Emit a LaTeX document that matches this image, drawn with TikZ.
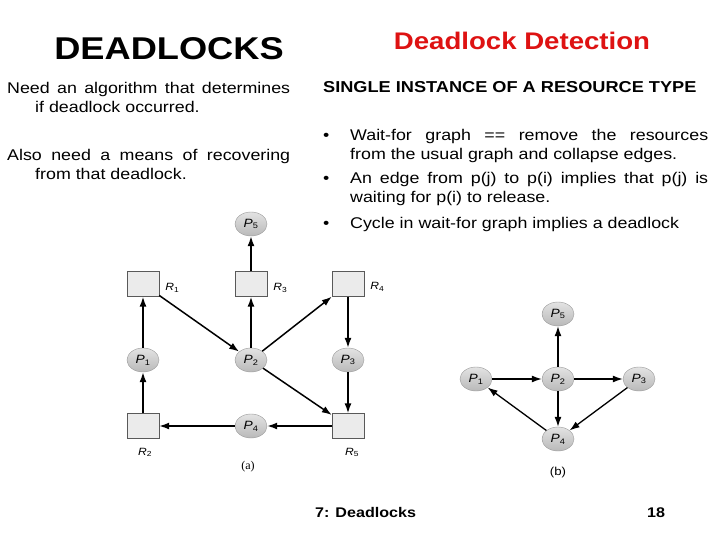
\documentclass[tikz,border=0pt]{standalone}
\usepackage{fontspec}
\setmainfont{Liberation Sans}[FakeStretch=1.15]
\newfontfamily\capfont{Liberation Serif}
\usepackage{xcolor}
\usetikzlibrary{arrows.meta, positioning, shapes.geometric}
\definecolor{titlered}{RGB}{222,18,18}
\newcommand{\Pn}[1]{\textit{P}\textsubscript{#1}}
\newcommand{\Rn}[1]{\textit{R}\textsubscript{#1}}

\tikzset{
  proc/.style={ellipse, draw=gray!80, top color=gray!22, bottom color=gray!55,
    minimum width=32pt, minimum height=24pt, inner sep=0pt, font=\fontsize{12}{12}\selectfont},
  res/.style={rectangle, draw=gray!70!black, fill=gray!16, minimum width=32pt,
    minimum height=25pt, inner sep=0pt},
  rlab/.style={font=\fontsize{10.5}{10.5}\selectfont, inner sep=0pt},
  edge/.style={-{Latex[length=10pt,width=7pt]}, line width=1.5pt},
  body/.style={font=\fontsize{15.5}{19.5}\selectfont, inner sep=0pt, anchor=base west},
}

\begin{document}
\begin{tikzpicture}[x=1pt, y=-1pt]
    \fill[white] (0,0) rectangle (728,546);
    \useasboundingbox (0,0) rectangle (728,546);

    % titles
    \node[anchor=base, inner sep=0pt, font=\fontsize{31.5}{34}\bfseries\selectfont] (title) at (169,59) {DEADLOCKS};
    \node[anchor=base, inner sep=0pt, text=titlered, font=\fontsize{24}{26}\bfseries\selectfont] (subtitle) at (522,49) {Deadlock Detection};

    % left text
    \node[body, text width=283pt, align=justify] (need) at (7,93)
        {\hangindent=28pt\hangafter=1 Need an algorithm that determines\linebreak if deadlock occurred.\par};
    \node[body, text width=283pt, align=justify] (also) at (7,160)
        {\hangindent=28pt\hangafter=1 Also need a means of recovering\linebreak from that deadlock.\par};

    % right text
    \node[body, font=\fontsize{15.8}{19}\bfseries\selectfont] (single) at (323,92) {SINGLE INSTANCE OF A RESOURCE TYPE};
    \node[body] (b1) at (323,140) {\textbullet};
    \node[body] (b2) at (323,183) {\textbullet};
    \node[body] (b3) at (323,228) {\textbullet};
    \node[body, text width=358pt, align=justify] (item1) at (350,140)
        {Wait-for graph == remove the resources\linebreak from the usual graph and collapse edges.};
    \node[body, text width=358pt, align=justify] (item2) at (350,183)
        {An edge from p(j) to p(i) implies that p(j) is\linebreak waiting for p(i) to release.};
    \node[body] (item3) at (350,228) {Cycle in wait-for graph implies a deadlock};

    % resource allocation graph (a)
    \node[proc] (P5) at (251,224) {\Pn{5}};
    \node[res, label={[rlab, label distance=6pt, yshift=-4pt]right:\Rn{1}}] (R1) at (143,284) {};
    \node[res, label={[rlab, label distance=6pt, yshift=-4pt]right:\Rn{3}}] (R3) at (251,284) {};
    \node[res, label={[rlab, label distance=6pt, yshift=-3pt]right:\Rn{4}}] (R4) at (348,284) {};
    \node[proc] (P1) at (143,360) {\Pn{1}};
    \node[proc] (P2) at (251,360) {\Pn{2}};
    \node[proc] (P3) at (348,360) {\Pn{3}};
    \node[res, label={[rlab, label distance=9pt, xshift=2pt]below:\Rn{2}}] (R2) at (143,426) {};
    \node[proc] (P4) at (251,426) {\Pn{4}};
    \node[res, label={[rlab, label distance=9pt, xshift=4pt]below:\Rn{5}}] (R5) at (348,426) {};
    \node[font=\capfont\fontsize{12}{12}\selectfont] (capa) at (248,467) {(a)};

    \draw[edge] (R2) -- (P1);
    \draw[edge] (P1) -- (R1);
    \draw[edge] (R1) -- (P2);
    \draw[edge] (P2) -- (R3);
    \draw[edge] (R3) -- (P5);
    \draw[edge] (P2) -- (R4);
    \draw[edge] (R4) -- (P3);
    \draw[edge] (P3) -- (R5);
    \draw[edge] (P2) -- (R5);
    \draw[edge] (R5) -- (P4);
    \draw[edge] (P4) -- (R2);

    % wait-for graph (b)
    \node[proc] (Q5) at (558,314) {\Pn{5}};
    \node[proc] (Q1) at (476,379) {\Pn{1}};
    \node[proc] (Q2) at (558,379) {\Pn{2}};
    \node[proc] (Q3) at (639,379) {\Pn{3}};
    \node[proc] (Q4) at (558,439) {\Pn{4}};
    \node[font=\fontsize{11.5}{11.5}\selectfont] (capb) at (558,473) {(b)};

    \draw[edge, line width=1.3pt] (Q1) -- (Q2);
    \draw[edge, line width=1.3pt] (Q2) -- (Q3);
    \draw[edge, line width=1.3pt] (Q2) -- (Q5);
    \draw[edge, line width=1.3pt] (Q2) -- (Q4);
    \draw[edge, line width=1.3pt] (Q3) -- (Q4);
    \draw[edge, line width=1.3pt] (Q4) -- (Q1);

    % footer
    \node[body, font=\fontsize{14}{16}\bfseries\selectfont] (foot) at (315,517) {7: Deadlocks};
    \node[body, font=\fontsize{14}{16}\bfseries\selectfont] (page) at (647,517) {18};
\end{tikzpicture}
\end{document}
